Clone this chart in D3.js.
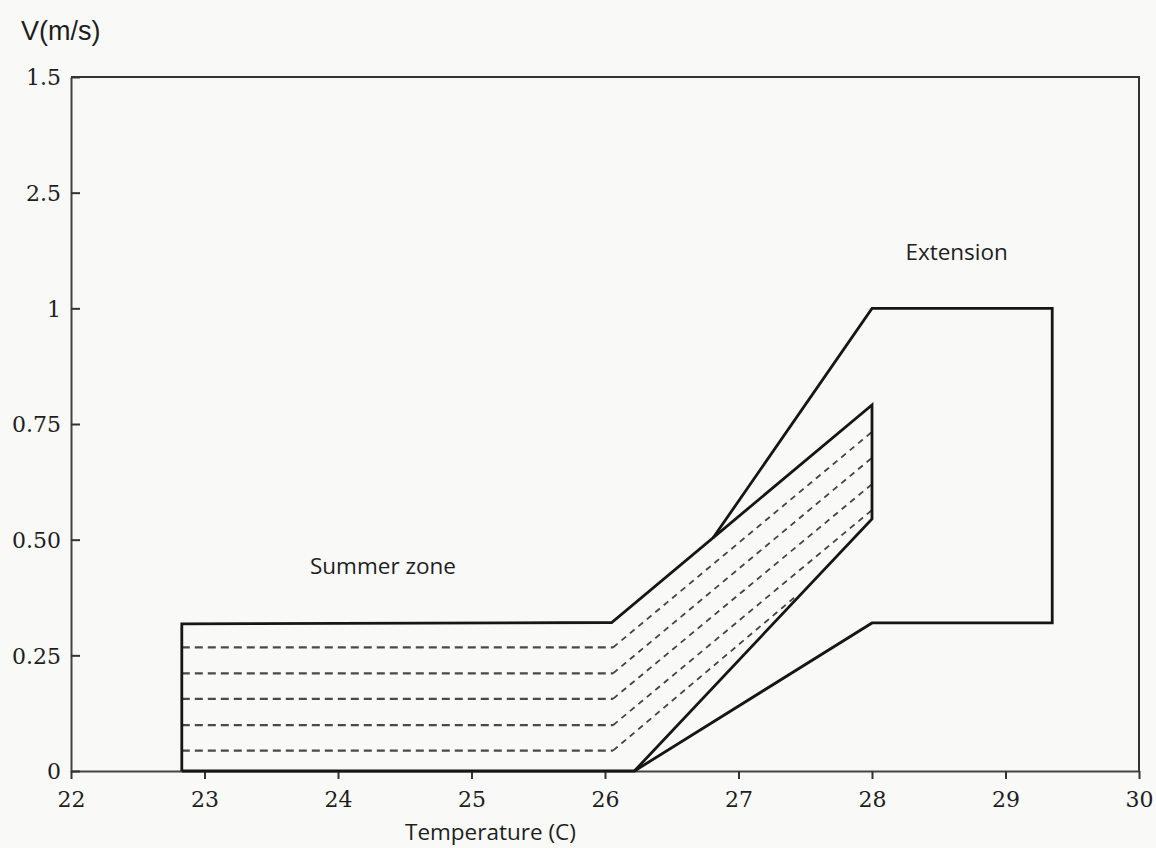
<!DOCTYPE html>
<html>
<head>
<meta charset="utf-8">
<script src="https://cdn.jsdelivr.net/npm/d3@7"></script>
<style>
  html, body { margin: 0; padding: 0; background: #f9f9f8; }
  svg { display: block; }
</style>
</head>
<body>
<svg id="chart" width="1156" height="848"></svg>
<script>
// ---- data ----
const xTicks = [22, 23, 24, 25, 26, 27, 28, 29, 30];
const yTickValues = [0, 0.25, 0.5, 0.75, 1, 1.25, 1.5];
const yTickLabels = ["0", "0.25", "0.50", "0.75", "1", "2.5", "1.5"];

// Summer zone outline (temperature, velocity)
const summerZone = [
  [22.83, 0], [22.83, 0.318], [26.05, 0.321], [28.0, 0.791],
  [28.0, 0.545], [26.22, 0], [22.83, 0]
];
// Extension outline
const extensionZone = [
  [26.81, 0.504], [28.0, 1.0], [29.35, 1.0], [29.35, 0.32],
  [28.0, 0.32], [26.22, 0]
];
// Dashed inner lines: start x, horizontal level, bend x, end point
const dashedLevels = [0.267, 0.211, 0.156, 0.099, 0.044];
const dashedStartX = 22.83;
const dashedBendX = 26.06;
const dashedEnds = [[28.0, 0.733], [28.0, 0.677], [28.0, 0.620], [28.0, 0.564], [27.44, 0.380]];

const labels = [
  { text: "Summer zone", x: 23.79, y: 0.426 },
  { text: "Extension", x: 28.25, y: 1.105 }
];
const xTitle = "Temperature (C)";
const yTitle = "V(m/s)";

// ---- drawing ----
const svg = d3.select("#chart");
const x = d3.scaleLinear().domain([22, 30]).range([71, 1139]);
const y = d3.scaleLinear().domain([0, 1.5]).range([771, 77]);

// frame (top and right)
svg.append("path")
  .attr("d", `M${x(22)},${y(1.5)} H${x(30)} V${y(0)}`)
  .attr("fill", "none").attr("stroke", "#333").attr("stroke-width", 2);

// x axis
const gx = svg.append("g").attr("transform", `translate(0,${y(0)})`)
  .call(d3.axisBottom(x).tickValues(xTicks).tickFormat(d3.format("d")).tickSizeInner(8).tickSizeOuter(0).tickPadding(12));
// y axis
const gy = svg.append("g").attr("transform", `translate(${x(22)},0)`)
  .call(d3.axisLeft(y).tickValues(yTickValues).tickFormat((d, i) => yTickLabels[i]).tickSizeInner(-9).tickSizeOuter(0).tickPadding(10));

[gx, gy].forEach(g => {
  g.select(".domain").attr("stroke", "#444").attr("stroke-width", 2);
  g.selectAll(".tick line").attr("stroke", "#333").attr("stroke-width", 2);
  g.selectAll(".tick text")
    .attr("fill", "#1e1e1e")
    .style("font-family", "'DejaVu Serif', serif")
    .style("font-size", "22px");
});
gy.selectAll(".tick text").attr("dy", "0.36em");
gx.selectAll(".tick text").attr("dy", "0.72em");

const line = d3.line().x(d => x(d[0])).y(d => y(d[1]));

// dashed lines
dashedLevels.forEach((lvl, i) => {
  svg.append("path")
    .attr("d", line([[dashedStartX, lvl], [dashedBendX, lvl]]))
    .attr("fill", "none").attr("stroke", "#4a4a4a").attr("stroke-width", 2.2)
    .attr("stroke-dasharray", "8,5");
  svg.append("path")
    .attr("d", line([[dashedBendX, lvl], dashedEnds[i]]))
    .attr("fill", "none").attr("stroke", "#444").attr("stroke-width", 1.8)
    .attr("stroke-dasharray", "6,5");
});

// outlines
svg.append("path").attr("d", line(summerZone))
  .attr("fill", "none").attr("stroke", "#161616").attr("stroke-width", 2.8)
  .attr("stroke-linejoin", "miter");
svg.append("path").attr("d", line(extensionZone))
  .attr("fill", "none").attr("stroke", "#161616").attr("stroke-width", 2.8)
  .attr("stroke-linejoin", "miter");

// labels
labels.forEach(l => {
  svg.append("text").attr("x", x(l.x)).attr("y", y(l.y))
    .attr("fill", "#1e1e1e")
    .style("font-family", "'Open Sans', sans-serif").style("font-size", "22.5px")
    .text(l.text);
});

// axis titles
svg.append("text").attr("x", 405).attr("y", 840)
  .attr("fill", "#1e1e1e")
  .style("font-family", "'Open Sans', sans-serif").style("font-size", "22.5px")
  .text(xTitle);
svg.append("text").attr("x", 21).attr("y", 40)
  .attr("fill", "#1e1e1e")
  .style("font-family", "'Liberation Sans', Arial, sans-serif").style("font-size", "27px")
  .text(yTitle);
</script>
</body>
</html>
